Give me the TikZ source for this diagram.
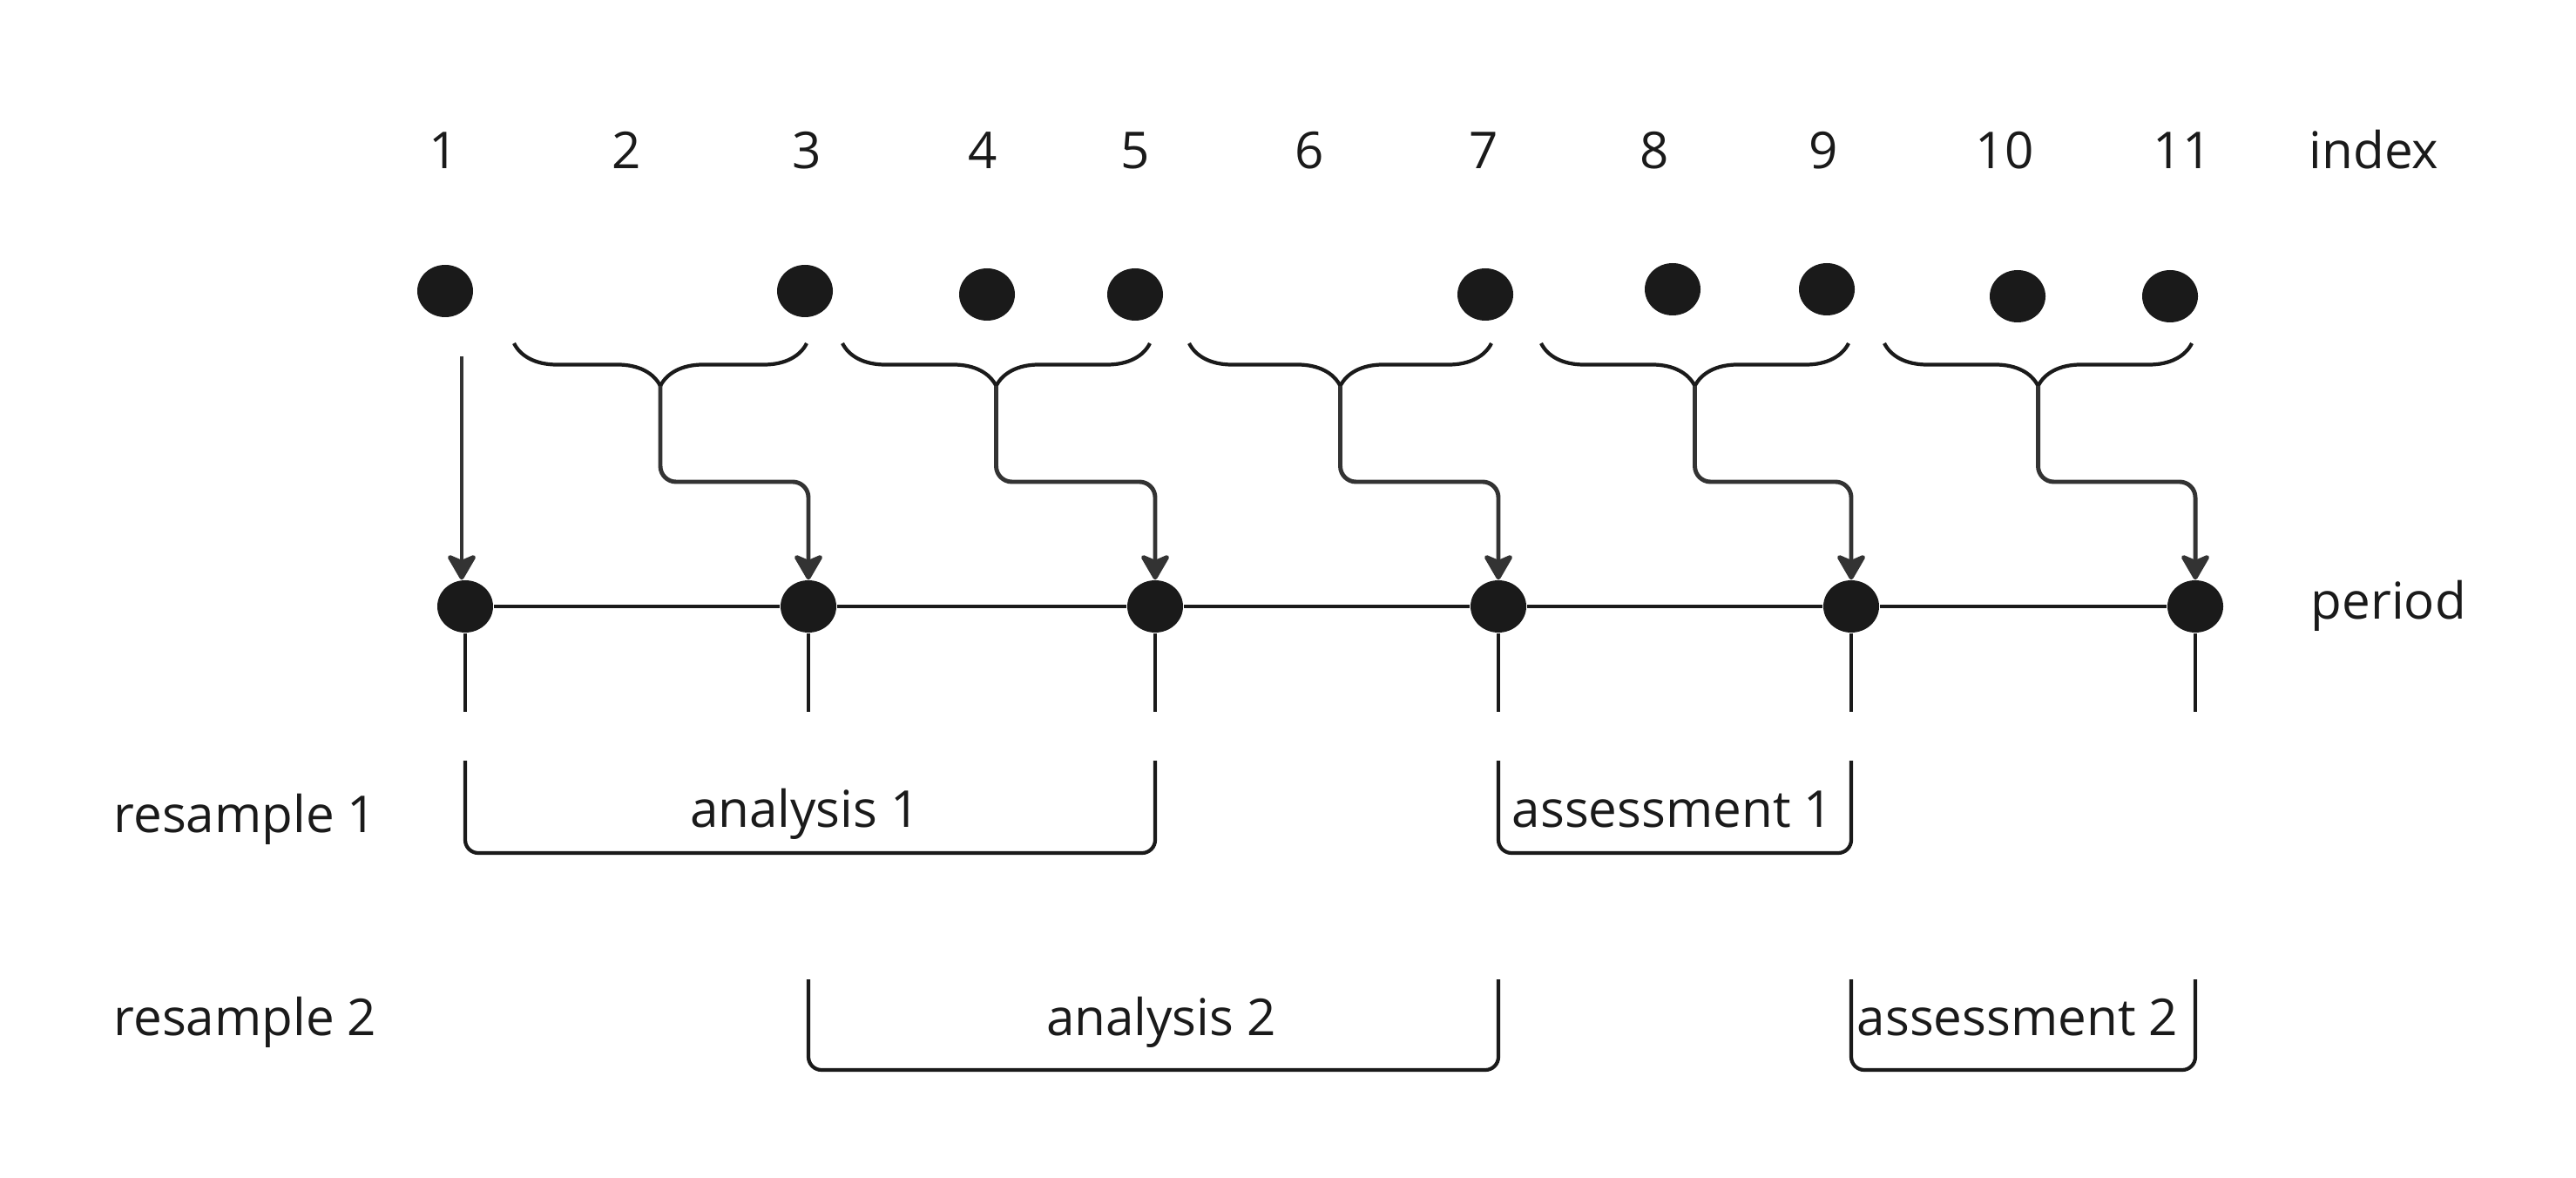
\documentclass[tikz,border=0pt]{standalone}
\usepackage{fontspec}
\setmainfont{Open Sans}
\usepackage{tikz}
\usetikzlibrary{shapes,arrows,positioning,calc,decorations.pathreplacing,arrows.meta}

\definecolor{ink}{HTML}{1A1A1A}
\definecolor{wire}{HTML}{333333}

\tikzset{
  dot/.style={ellipse, fill=ink, minimum width=0.64cm, minimum height=0.6cm, inner sep=0pt},
  txt/.style={font=\fontsize{16.6}{20}\selectfont, text=ink, inner sep=0pt, anchor=base},
  grp/.style={draw=ink, line width=1.2pt, decorate, decoration={brace, mirror, amplitude=0.49cm}},
  conn/.style={draw=wire, line width=1.4pt, rounded corners=0.18cm, -{Stealth[length=3.3mm,width=3.8mm,inset=0.8mm,round]}},
  tick/.style={draw=ink, line width=1.2pt},
  bracket/.style={draw=ink, line width=1.2pt, rounded corners=0.15cm}
}

\begin{document}
\begin{tikzpicture}
    \useasboundingbox (0,0) rectangle (29.57,-13.52);

    % index row
    \foreach \x/\n in {5.09/1, 7.19/2, 9.26/3, 11.28/4, 13.03/5, 15.03/6, 17.03/7, 18.99/8, 20.93/9, 23.01/10, 25.05/11}
        \node[txt] (n\n) at (\x,-1.94) {\n};
    \node[txt, anchor=base west] (idx) at (26.50,-1.94) {index};

    \foreach \x/\y/\n in {5.11/-3.34/1, 9.24/-3.34/3, 11.33/-3.38/4, 13.03/-3.38/5, 17.05/-3.38/7, 19.20/-3.32/8, 20.97/-3.32/9, 23.16/-3.40/10, 24.91/-3.40/11}
        \node[dot] (i\n) at (\x,\y) {};

    % period row
    \foreach \x/\n in {5.34/1, 9.28/2, 13.26/3, 17.20/4, 21.25/5, 25.20/6}
        \node[dot] (p\n) at (\x,-6.96) {};
    \node[txt, anchor=base west] (per) at (26.52,-7.10) {period};
    \draw[tick] (p1) -- (p2) -- (p3) -- (p4) -- (p5) -- (p6);
    \coordinate (tickend) at (0,-8.17);
    \foreach \n in {1,...,6}
        \draw[tick] (p\n.south) -- (p\n |- tickend);

    % braces and arrows
    \coordinate (s1) at (5.30,-4.09);
    \coordinate (mid) at (0,-5.53);
    \draw[conn] (s1) -- (s1 |- p1.north);
    \foreach \a/\b/\k [count=\j from 2] in {5.90/9.26/1, 9.67/13.20/2, 13.65/17.12/3, 17.69/21.22/4, 21.63/25.16/5} {
        \draw[grp] (\a,-3.94) -- (\b,-3.94);
        \coordinate (t\k) at ({(\a+\b)/2},-4.43);
        \draw[conn] (t\k) -- (t\k |- mid) -- (p\j |- mid) -- (p\j.north);
    }

    % resamples
    \coordinate (r1top) at (0,-8.73);
    \coordinate (r1bot) at (0,-9.79);
    \coordinate (r2top) at (0,-11.24);
    \coordinate (r2bot) at (0,-12.28);
    \draw[bracket] (p1 |- r1top) -- (p1 |- r1bot) -- (p3 |- r1bot) -- (p3 |- r1top);
    \draw[bracket] (p4 |- r1top) -- (p4 |- r1bot) -- (p5 |- r1bot) -- (p5 |- r1top);
    \draw[bracket] (p2 |- r2top) -- (p2 |- r2bot) -- (p4 |- r2bot) -- (p4 |- r2top);
    \draw[bracket] (p5 |- r2top) -- (p5 |- r2bot) -- (p6 |- r2bot) -- (p6 |- r2top);

    \node[txt, anchor=base west] (rs1) at (1.30,-9.55) {resample 1};
    \node[txt, anchor=base west] (rs2) at (1.30,-11.88) {resample 2};
    \node[txt] (an1) at (9.24,-9.49) {analysis 1};
    \node[txt] (as1) at (19.20,-9.49) {assessment 1};
    \node[txt] (an2) at (13.33,-11.88) {analysis 2};
    \node[txt] (as2) at (23.16,-11.88) {assessment 2};
\end{tikzpicture}
\end{document}
